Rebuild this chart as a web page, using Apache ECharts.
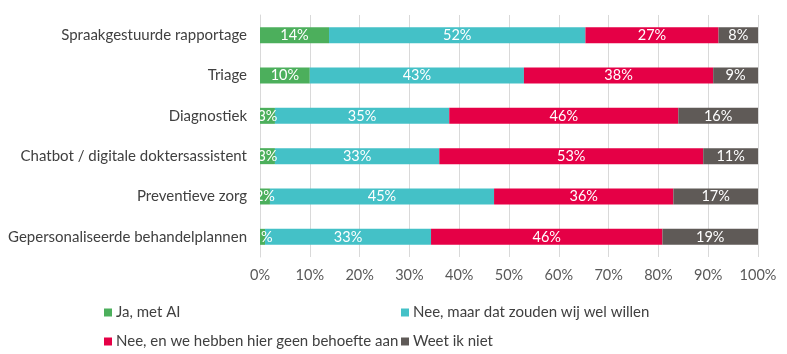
<!DOCTYPE html>
<html><head><meta charset="utf-8">
<script src="https://cdn.jsdelivr.net/npm/echarts@6/dist/echarts.min.js"></script>
<style>html,body{margin:0;padding:0;background:#fff}#c{width:787px;height:354px}</style>
</head><body><div id="c"></div>
<script>
var categories = ["Spraakgestuurde rapportage","Triage","Diagnostiek","Chatbot / digitale doktersassistent","Preventieve zorg","Gepersonaliseerde behandelplannen"];
var seriesNames = ["Ja, met AI","Nee, maar dat zouden wij wel willen","Nee, en we hebben hier geen behoefte aan","Weet ik niet"];
var jaMetAI = [14,10,3,3,2,1];
var neeWelWillen = [52,43,35,33,45,33];
var neeGeenBehoefte = [27,38,46,53,36,46];
var weetIkNiet = [8,9,16,11,17,19];
var tickLabels = ["0%","10%","20%","30%","40%","50%","60%","70%","80%","90%","100%"];
var colors = ["#4CAF5C","#44C1C7","#E50046","#5F5A57"];

var raw = [jaMetAI, neeWelWillen, neeGeenBehoefte, weetIkNiet];
var totals = categories.map(function(_, i){ return raw.reduce(function(s, a){ return s + a[i]; }, 0); });
var FONT = "Lato, 'Open Sans', sans-serif";
var FS = 15;

var series = raw.map(function(arr, k){
  return {
    name: seriesNames[k], type: 'bar', stack: 'all', barWidth: 16,
    itemStyle: {color: colors[k]},
    label: {show: true, position: 'inside', color: '#fff', fontFamily: FONT, fontSize: 14.5,
      formatter: function(p){ return arr[p.dataIndex] + '%'; }},
    data: arr.map(function(v, i){ return v / totals[i] * 100; })
  };
});

var legendPos = [[104,305],[401,305],[104,334],[401,334]];
var legends = seriesNames.map(function(n, k){
  return {data: [n], left: legendPos[k][0], top: legendPos[k][1], itemWidth: 8, itemHeight: 8, itemGap: 0,
    icon: 'rect', padding: 0, textStyle: {fontFamily: FONT, fontSize: FS, color: '#404040', padding: [0,0,0,-1]}};
});

var chart = echarts.init(document.getElementById('c'), null, {renderer: 'canvas'});
chart.setOption({
  animation: false,
  grid: {left: 260, right: 29, top: 15, bottom: 97, containLabel: false},
  legend: legends,
  xAxis: {type: 'value', min: 0, max: 100, interval: 10,
    axisLine: {show: false}, axisTick: {show: false},
    splitLine: {show: true, lineStyle: {color: '#D9D9D9', width: 1}},
    axisLabel: {fontFamily: FONT, fontSize: 14.5, color: '#595959', margin: 11,
      formatter: function(v){ return tickLabels[Math.round(v/10)]; }}},
  yAxis: {type: 'category', data: categories, inverse: true,
    axisLine: {show: true, lineStyle: {color: '#D9D9D9'}}, axisTick: {show: false},
    axisLabel: {fontFamily: FONT, fontSize: FS, color: '#404040', margin: 13}},
  series: series
});
</script></body></html>
